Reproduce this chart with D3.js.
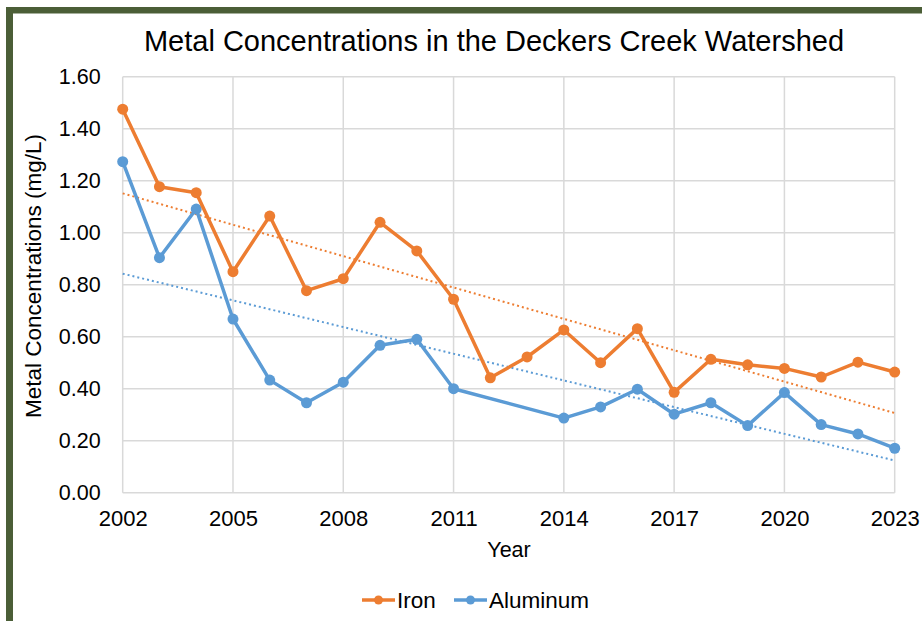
<!DOCTYPE html>
<html>
<head>
<meta charset="utf-8">
<script src="https://cdn.jsdelivr.net/npm/d3@7"></script>
<style>
  body { margin: 0; background: #fff; }
  text { font-family: Arial, "Liberation Sans", sans-serif; fill: #000; }
</style>
</head>
<body>
<script>
const width = 922;
const height = 621;

// data
const ironYears = [2002, 2003, 2004, 2005, 2006, 2007, 2008, 2009, 2010, 2011, 2012,
  2013, 2014, 2015, 2016, 2017, 2018, 2019, 2020, 2021, 2022, 2023];
const ironValues = [1.475, 1.177, 1.154, 0.850, 1.064, 0.777, 0.823, 1.040, 0.930, 0.744, 0.442,
  0.522, 0.626, 0.500, 0.631, 0.386, 0.513, 0.492, 0.478, 0.445, 0.502, 0.464];
const aluminumYears = [2002, 2003, 2004, 2005, 2006, 2007, 2008, 2009, 2010, 2011,
  2014, 2015, 2016, 2017, 2018, 2019, 2020, 2021, 2022, 2023];
const aluminumValues = [1.273, 0.904, 1.091, 0.668, 0.433, 0.346, 0.425, 0.567, 0.590, 0.400,
  0.287, 0.330, 0.398, 0.302, 0.346, 0.258, 0.385, 0.262, 0.226, 0.171];
const xTicks = [2002, 2005, 2008, 2011, 2014, 2017, 2020, 2023];
const yTicks = [0, 0.2, 0.4, 0.6, 0.8, 1.0, 1.2, 1.4, 1.6];

const series = [
  { name: 'Iron', color: '#ed7d31', years: ironYears, values: ironValues },
  { name: 'Aluminum', color: '#5b9bd5', years: aluminumYears, values: aluminumValues }
];

const margin = { left: 122.7, right: 922 - 894.7, top: 76.7, bottom: 621 - 492.7 };

const svg = d3.select('body').append('svg')
  .attr('width', width)
  .attr('height', height);

// green frame (top and left edges visible)
svg.append('rect')
  .attr('x', 6).attr('y', 7)
  .attr('width', width - 6).attr('height', height - 7)
  .attr('fill', '#4b5e37');
svg.append('rect')
  .attr('x', 13).attr('y', 13.5)
  .attr('width', width - 13).attr('height', height - 13.5)
  .attr('fill', '#fff');

const x = d3.scaleLinear()
  .domain([2002, 2023])
  .range([margin.left, width - margin.right]);
const y = d3.scaleLinear()
  .domain([0, 1.6])
  .range([height - margin.bottom, margin.top]);

// grid
svg.append('g')
  .selectAll('line.h')
  .data(yTicks)
  .enter().append('line')
    .attr('x1', x(2002)).attr('x2', x(2023))
    .attr('y1', d => y(d)).attr('y2', d => y(d))
    .attr('stroke', '#d9d9d9')
    .attr('stroke-width', 1.5);
svg.append('g')
  .selectAll('line.v')
  .data(xTicks)
  .enter().append('line')
    .attr('x1', d => x(d)).attr('x2', d => x(d))
    .attr('y1', y(0)).attr('y2', y(1.6))
    .attr('stroke', '#d9d9d9')
    .attr('stroke-width', 1.5);

// axes (labels only)
const yAxis = svg.append('g')
  .attr('transform', `translate(${x(2002)},0)`)
  .call(d3.axisLeft(y).tickValues(yTicks).tickFormat(d3.format('.2f')).tickSize(0).tickPadding(22));
yAxis.select('.domain').remove();
yAxis.selectAll('text')
  .attr('font-size', 21.5)
  .attr('font-family', 'Arial, "Liberation Sans", sans-serif')
  .attr('fill', '#000');

const xAxis = svg.append('g')
  .attr('transform', `translate(0,${y(0)})`)
  .call(d3.axisBottom(x).tickValues(xTicks).tickFormat(d3.format('d')).tickSize(0).tickPadding(17.5));
xAxis.select('.domain').remove();
xAxis.selectAll('text')
  .attr('font-size', 22)
  .attr('font-family', 'Arial, "Liberation Sans", sans-serif')
  .attr('fill', '#000');

// linear trendlines
series.forEach(s => {
  const mx = d3.mean(s.years);
  const my = d3.mean(s.values);
  let sxy = 0, sxx = 0;
  s.years.forEach((yr, i) => {
    sxy += (yr - mx) * (s.values[i] - my);
    sxx += (yr - mx) * (yr - mx);
  });
  const slope = sxy / sxx;
  const b = my - slope * mx;
  svg.append('line')
    .attr('x1', x(2002)).attr('y1', y(slope * 2002 + b))
    .attr('x2', x(2023)).attr('y2', y(slope * 2023 + b))
    .attr('stroke', s.color)
    .attr('stroke-width', 2)
    .attr('stroke-dasharray', '2,3');
});

// series lines + markers
const line = d3.line()
  .x(d => x(d[0]))
  .y(d => y(d[1]));

series.slice().reverse().forEach(s => {
  const pts = s.years.map((yr, i) => [yr, s.values[i]]);
  svg.append('path')
    .datum(pts)
    .attr('d', line)
    .attr('fill', 'none')
    .attr('stroke', s.color)
    .attr('stroke-width', 3.5)
    .attr('stroke-linejoin', 'round');
  svg.append('g')
    .selectAll('circle')
    .data(pts)
    .enter().append('circle')
      .attr('cx', d => x(d[0]))
      .attr('cy', d => y(d[1]))
      .attr('r', 5.5)
      .attr('fill', s.color);
});

// titles
svg.append('text')
  .attr('x', 494).attr('y', 51)
  .attr('text-anchor', 'middle')
  .attr('font-size', 29)
  .text('Metal Concentrations in the Deckers Creek Watershed');

svg.append('text')
  .attr('x', 509).attr('y', 557)
  .attr('text-anchor', 'middle')
  .attr('font-size', 21.5)
  .text('Year');

svg.append('text')
  .attr('transform', 'translate(41,276) rotate(-90)')
  .attr('text-anchor', 'middle')
  .attr('font-size', 22.5)
  .text('Metal Concentrations (mg/L)');

// legend
const legendX = [362, 454];
series.forEach((s, i) => {
  const g = svg.append('g').attr('transform', `translate(${legendX[i]},600)`);
  g.append('line')
    .attr('x1', 0).attr('x2', 33)
    .attr('stroke', s.color).attr('stroke-width', 3.5);
  g.append('circle')
    .attr('cx', 16.5).attr('r', 4.5).attr('fill', s.color);
  g.append('text')
    .attr('x', 35).attr('y', 7.5)
    .attr('font-size', 22.5)
    .text(s.name);
});
</script>
</body>
</html>
